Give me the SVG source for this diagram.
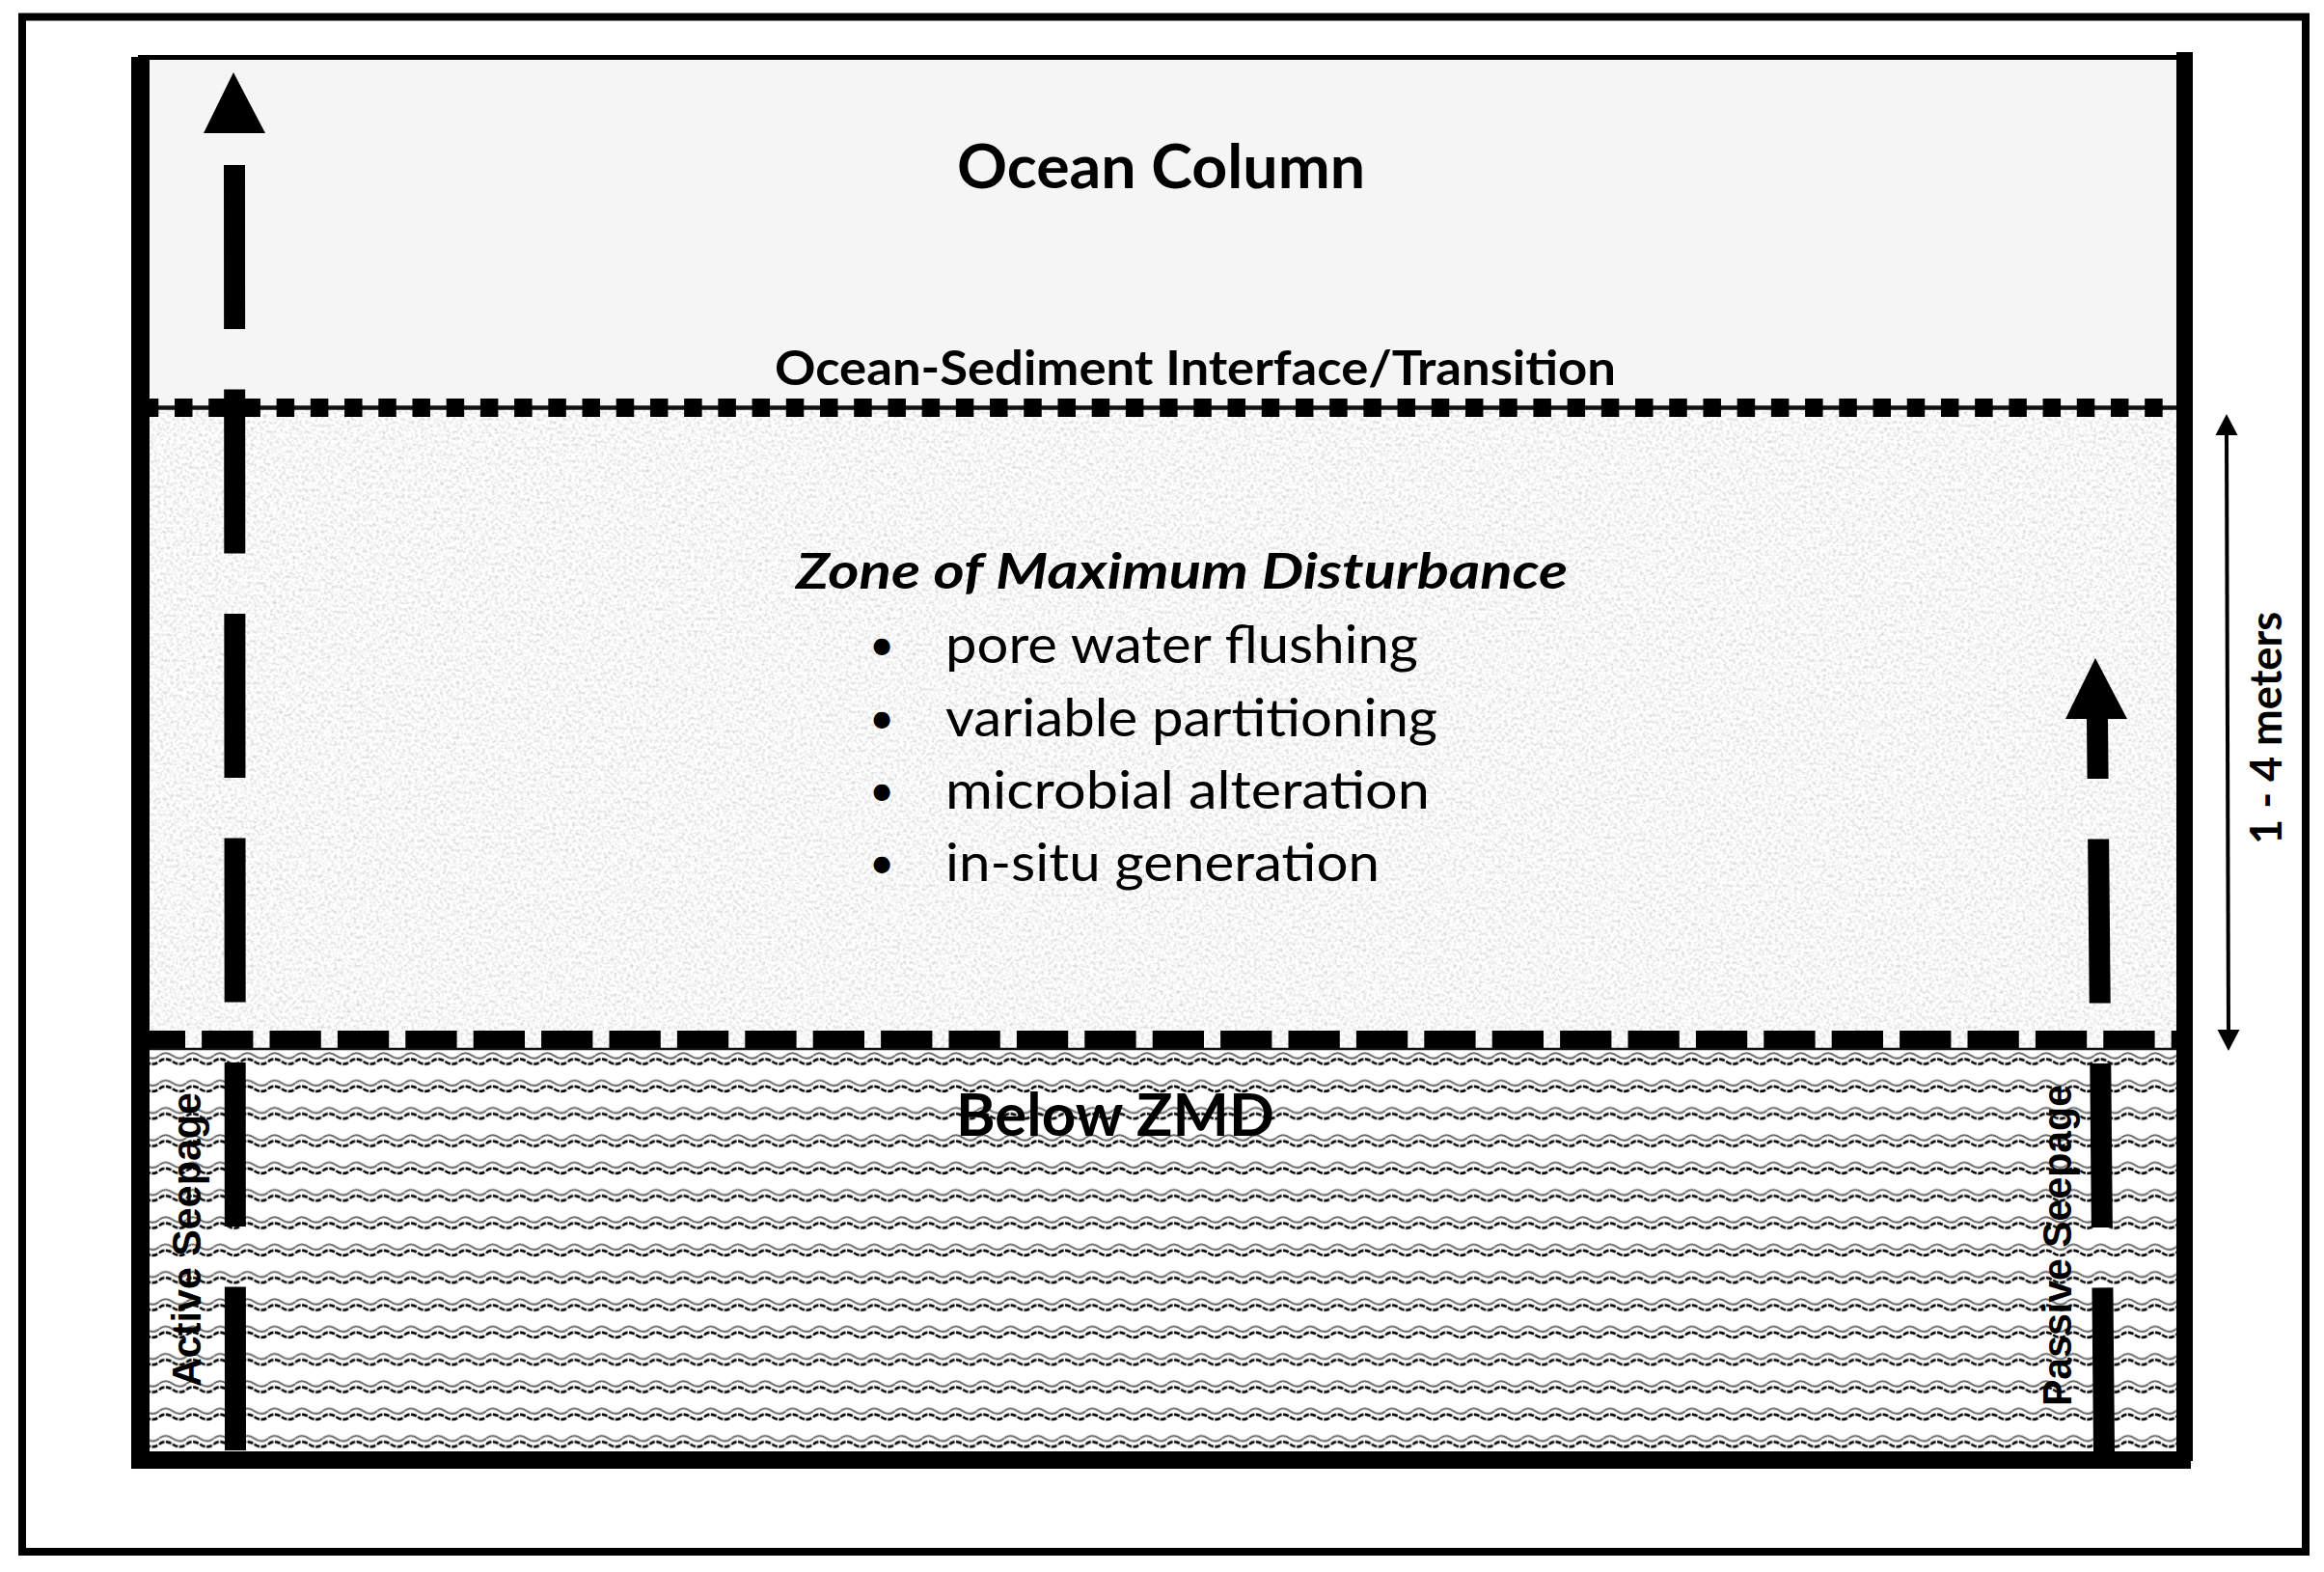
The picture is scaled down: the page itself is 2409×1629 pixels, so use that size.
<svg xmlns="http://www.w3.org/2000/svg" width="2409" height="1629" viewBox="0 0 2409 1629">
  <defs>
    <style>
      .title { font-family: Lato, "Liberation Sans", sans-serif; font-weight: bold; fill: #000; }
      .body { font-family: Lato, "Liberation Sans", sans-serif; fill: #000; }
      .side { font-family: "Liberation Sans", Arial, sans-serif; font-weight: bold; font-size: 42px; fill: #000; }
      .wall { fill: #000; }
      .shaft { stroke: #000; stroke-width: 22; fill: none; stroke-dasharray: 170 62.5; }
    </style>
    <filter id="granite" filterUnits="userSpaceOnUse" x="155" y="422" width="2101" height="664">
      <feTurbulence type="fractalNoise" baseFrequency="0.3" numOctaves="3" seed="7" result="n"/>
      <feColorMatrix in="n" type="matrix" values="0.7 0 0 0 0.58  0.7 0 0 0 0.58  0.7 0 0 0 0.58  0 0 0 0 1"/>
    </filter>
    <pattern id="waves" patternUnits="userSpaceOnUse" x="165" y="1090" width="28.25" height="28.33">
      <path d="M0,4 C4,0.5 9,0.5 14,4 S24,7.5 28.25,4" fill="none" stroke="#6a6a6a" stroke-width="2"/>
      <path d="M0,10 C4,6.5 9,6.5 14,10 S24,13.5 28.25,10" fill="none" stroke="#000" stroke-width="2.6" stroke-dasharray="6 1.5"/>
    </pattern>
  </defs>

  <rect width="2409" height="1629" fill="#fff"/>

  <!-- outer frame -->
  <rect id="frame" x="23" y="17.5" width="2367" height="1590.5" fill="none" stroke="#000" stroke-width="8"/>

  <g id="ocean-column">
    <rect x="155" y="62" width="2101" height="360" fill="#f5f5f5"/>
    <text class="title" x="992" y="195" font-size="63" textLength="423" lengthAdjust="spacingAndGlyphs">Ocean Column</text>
  </g>

  <g id="zmd">
    <rect x="155" y="422" width="2101" height="664" fill="#ececec" filter="url(#granite)"/>
    <text class="title" x="825" y="610" font-size="52" font-style="italic" textLength="800" lengthAdjust="spacingAndGlyphs">Zone of Maximum Disturbance</text>
    <g class="body" font-size="54">
      <text x="914" y="684" text-anchor="middle" font-size="46">•</text>
      <text x="980" y="687" textLength="490" lengthAdjust="spacingAndGlyphs">pore water flushing</text>
      <text x="914" y="760" text-anchor="middle" font-size="46">•</text>
      <text x="980" y="763" textLength="510" lengthAdjust="spacingAndGlyphs">variable partitioning</text>
      <text x="914" y="835" text-anchor="middle" font-size="46">•</text>
      <text x="980" y="838" textLength="502" lengthAdjust="spacingAndGlyphs">microbial alteration</text>
      <text x="914" y="910" text-anchor="middle" font-size="46">•</text>
      <text x="980" y="913" textLength="450" lengthAdjust="spacingAndGlyphs">in-situ generation</text>
    </g>
  </g>

  <g id="below-zmd">
    <rect x="155" y="1088" width="2101" height="416" fill="#fff"/>
    <rect x="155" y="1088" width="2101" height="416" fill="url(#waves)"/>
    <text class="title" x="991" y="1177" font-size="62" textLength="330" lengthAdjust="spacingAndGlyphs">Below ZMD</text>
  </g>

  <g id="interface">
    <line x1="145.8" y1="422.5" x2="2256" y2="422.5" stroke="#111" stroke-width="4.5"/>
    <line x1="145.8" y1="422.5" x2="2256" y2="422.5" stroke="#000" stroke-width="19" stroke-dasharray="18.5 16.71"/>
    <text class="title" x="803" y="399" font-size="50" textLength="872" lengthAdjust="spacingAndGlyphs">Ocean-Sediment Interface/Transition</text>
  </g>

  <g id="zmd-boundary">
    <line x1="155" y1="1087" x2="2256" y2="1087" stroke="#111" stroke-width="2.5"/>
    <line x1="138.7" y1="1077" x2="2256" y2="1077" stroke="#000" stroke-width="18" stroke-dasharray="53.3 17.1"/>
  </g>

  <!-- inner box walls -->
  <g id="inner-box">
    <rect class="wall" x="143" y="57" width="2125" height="5"/>
    <rect class="wall" x="136" y="59" width="19" height="1463"/>
    <rect class="wall" x="2256" y="54" width="17" height="1460"/>
    <rect class="wall" x="145" y="1504" width="2126" height="18"/>
  </g>

  <g id="connectors">
    <g id="active-seepage-arrow">
      <line class="shaft" x1="243" y1="171" x2="244" y2="1503"/>
      <polygon points="242,75 211,138 275,138" fill="#000"/>
    </g>
    <g id="passive-seepage-arrow">
      <line class="shaft" x1="2174" y1="745" x2="2181" y2="1504" stroke-dashoffset="108"/>
      <polygon points="2172,682 2141,745 2205,745" fill="#000"/>
    </g>
    <g id="depth-arrow">
      <line x1="2308" y1="448" x2="2310" y2="1070" stroke="#000" stroke-width="4"/>
      <polygon points="2308,429 2296.5,451 2319.5,451" fill="#000"/>
      <polygon points="2310,1089 2298.5,1067 2321.5,1067" fill="#000"/>
    </g>
  </g>

  <g id="labels">
    <text class="side" transform="translate(208,1437) rotate(-90)" textLength="305" lengthAdjust="spacingAndGlyphs">Active Seepage</text>
    <text class="side" transform="translate(2147,1457) rotate(-90)" textLength="333" lengthAdjust="spacingAndGlyphs">Passive Seepage</text>
    <text class="title" font-size="45" transform="translate(2365,875) rotate(-90)" textLength="241" lengthAdjust="spacingAndGlyphs">1 - 4 meters</text>
  </g>
</svg>
